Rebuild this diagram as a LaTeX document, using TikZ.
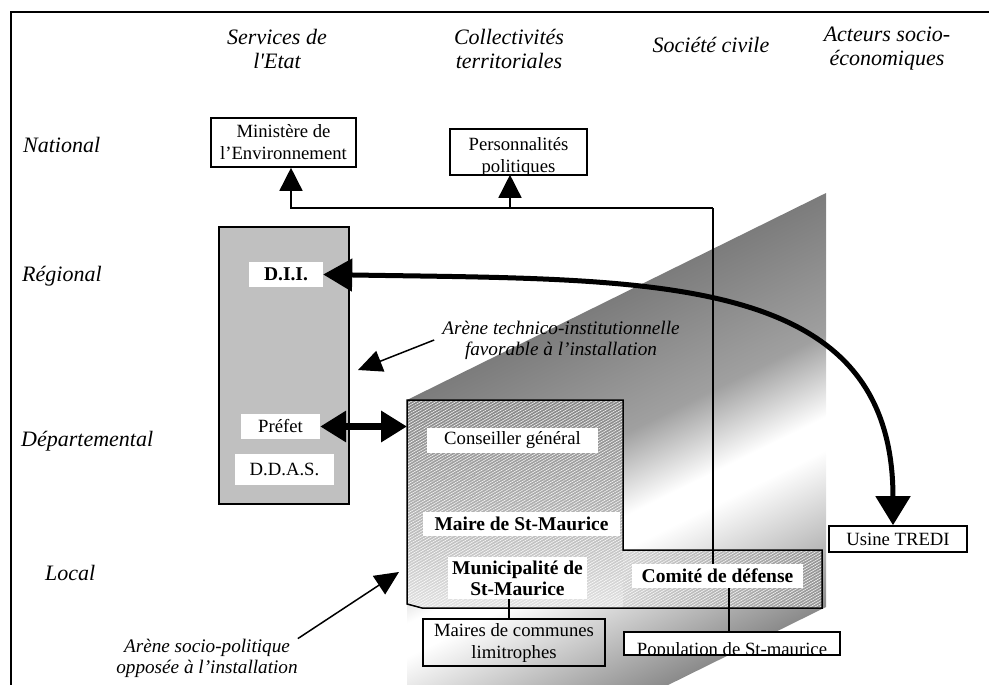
\documentclass[tikz,border=0pt]{standalone}
\usepackage{fontspec}
\setmainfont{Liberation Serif}
\usepackage{tikz}
\usetikzlibrary{arrows.meta,patterns.meta}

\definecolor{colGray}{HTML}{C0C0C0}
\definecolor{arenaDark}{HTML}{7C7C7C}
\definecolor{arenaMid}{HTML}{A0A0A0}
\definecolor{arenaPale}{HTML}{C8C8C8}
\definecolor{arenaLow}{HTML}{8A8A8A}
\definecolor{oppDark}{HTML}{868686}
\definecolor{oppMid}{HTML}{B0B0B0}
\definecolor{oppLight}{HTML}{E2E2E2}
\definecolor{armLight}{HTML}{D2D2D2}
\definecolor{armDark}{HTML}{959595}

% fond de l'arene socio-politique (de bas en haut, 25bp..75bp = le chemin)
\pgfdeclareverticalshading{arenashade}{100bp}{color(0bp)=(arenaLow); color(25bp)=(arenaLow); color(35bp)=(arenaPale); color(44bp)=(white); color(48bp)=(white); color(58bp)=(arenaMid); color(75bp)=(arenaDark); color(100bp)=(arenaDark)}

\newcommand{\corps}{\fontsize{18.7}{22}\selectfont}
\newcommand{\gras}{\fontsize{19.5}{21}\selectfont\bfseries}

\begin{document}
\begin{tikzpicture}[x=1pt,y=-1pt,
    colonne/.style={inner sep=0pt, align=center, font=\fontsize{22}{24}\selectfont\itshape},
    niveau/.style={anchor=west, inner sep=0pt, font=\fontsize{22}{24}\selectfont\itshape},
    acteur/.style={draw, line width=1.6pt, fill=white, inner sep=0pt, align=center, font=\corps},
    etiquette/.style={fill=white, inner sep=0pt, align=center, font=\corps},
    texte/.style={inner sep=0pt, align=center, font=\corps},
    annotation/.style={inner sep=0pt, align=center, font=\fontsize{19.2}{21}\selectfont\itshape},
    trait/.style={line width=1.5pt},
    fleche/.style={-{Triangle[length=23pt,width=23pt]}, line width=1.5pt},
    renvoi/.style={-{Triangle[length=24pt,width=22pt]}, line width=1.5pt},
    grosse/.style={{Triangle[length=29pt,width=32pt]}-{Triangle[length=29pt,width=34pt]}, line width=5pt},
    aller-retour/.style={{Triangle[length=26pt,width=30pt]}-{Triangle[length=26pt,width=30pt]}, line width=7pt}]
  \useasboundingbox (0,0) rectangle (989,685);
  \clip (0,0) rectangle (989,685);

  % cadre
  \draw[line width=1.5pt] (11,685) -- (11,12) -- (989,12);

  % colonnes
  \node[colonne] (etat) at (277,49) {Services de\\l\textquotesingle Etat};
  \node[colonne] (collect) at (509,49) {Collectivités\\territoriales};
  \node[colonne] (civile) at (711,45) {Société civile};
  \node[colonne] (socioeco) at (887,49) {Acteurs socio-\\économiques};

  % niveaux
  \node[niveau] (national) at (23,145) {National};
  \node[niveau] (regional) at (22,276) {Régional};
  \node[niveau] (departemental) at (21,441) {Départemental};
  \node[niveau] (local) at (45,573) {Local};

  % arene socio-politique : parallelogramme incline
  \begin{scope}[transform canvas={cm={1,0.494,0,1,(0pt,-201.06pt)}}]
    \shade[shading=arenashade] (407,400) rectangle (826,814);
  \end{scope}

  % arene opposee
  \begin{scope}
    \clip (407,400) -- (623,400) -- (623,550) -- (822,550) -- (822,608) -- (422,608) -- (407,604) -- cycle;
    \shade[top color=oppDark, bottom color=oppLight, middle color=oppMid] (407,400) rectangle (623,608);
    \shade[left color=armLight, right color=armDark] (623,550) rectangle (822,608);
    \fill[pattern={Lines[angle=30,distance=2.5pt,line width=0.5pt]}, pattern color=white, fill opacity=0.5]
      (407,400) rectangle (822,608);
  \end{scope}
  \draw[line width=1.5pt]
    (407,400) -- (623,400) -- (623,550) -- (822,550) -- (822,608) -- (422,608) -- (407,604) -- cycle;
  \coordinate (opp) at (407,400);

  % services de l'Etat
  \node[draw, line width=1.6pt, fill=colGray, minimum width=130, minimum height=277] (etatbox) at (284,365.5) {};
  \node[etiquette, font=\gras, minimum width=74, minimum height=25] (dii) at (286,274.5) {D.I.I.};
  \node[etiquette, minimum width=79, minimum height=25] (prefet) at (280.5,426.5) {Préfet};
  \node[etiquette, minimum width=99, minimum height=31] (ddas) at (284.5,469.5) {D.D.A.S.};

  % national
  \node[acteur, minimum width=145, minimum height=49] (ministere) at (283.5,142.5) {Ministère de\\l’Environnement};
  \node[acteur, draw=none, minimum width=135, minimum height=44] (perso) at (518.5,152) {};
  \begin{scope}
    \clip (perso.south west) rectangle (perso.north east);
    \node[texte] (persotxt) at (518.5,157) {Personnalités\\politiques};
  \end{scope}
  \draw[line width=1.6pt] (perso.south west) rectangle (perso.north east);

  % acteurs de l'arene opposee
  \node[etiquette, minimum width=171, minimum height=25] (conseiller) at (512.5,440.5) {Conseiller général};
  \node[etiquette, font=\gras, minimum width=197, minimum height=24] (maire) at (521.5,524) {Maire de St-Maurice};
  \node[etiquette, font=\gras, minimum width=139, minimum height=42] (municipalite) at (517.5,578) {Municipalité de\\St-Maurice};
  \node[etiquette, font=\gras, minimum width=171, minimum height=24] (comite) at (717.5,576) {Comité de défense};

  % local
  \node[acteur, fill=none, minimum width=182, minimum height=47] (maires) at (514,642.5) {Maires de communes\\limitrophes};
  \node[acteur, draw=none, minimum width=214, minimum height=21] (population) at (732,643.5) {};
  \begin{scope}
    \clip (population.south west) rectangle (population.north east);
    \node[texte, anchor=base] (poptxt) at (732,655) {Population de St-maurice};
  \end{scope}
  \draw[line width=1.6pt] (population.south west) rectangle (population.north east);
  \node[acteur, minimum width=138, minimum height=26] (usine) at (898,539) {Usine TREDI};

  % liens
  \coordinate (carrefour) at (713,208);
  \draw[trait] (comite.north -| carrefour) -- (carrefour);
  \draw[fleche] (carrefour) -| ([xshift=7.5pt]ministere.south);
  \draw[fleche] ([xshift=-8.5pt]perso.south |- carrefour) -- ([xshift=-8.5pt]perso.south);
  \draw[trait] ([xshift=-5pt]maires.north |- municipalite.south) -- ([xshift=-5pt]maires.north);
  \draw[trait] ([xshift=-3pt]population.north |- comite.south) -- ([xshift=-3pt]population.north);
  \draw[grosse] (dii.east) .. controls (650,280) and (893,270) .. ([xshift=-5pt]usine.north);
  \draw[aller-retour] (prefet.east) -- (prefet.east -| opp);

  % annotations
  \node[annotation] (technique) at (561,340) {Arène technico-institutionnelle\\favorable à l’installation};
  \coordinate (technique-cible) at (358,370);
  \draw[renvoi] ([xshift=-8pt]technique.west) -- (technique-cible);
  \node[annotation] (sociopol) at (207,658) {Arène socio-politique\\opposée à l’installation};
  \coordinate (socio-cible) at (399,572);
  \draw[renvoi] (sociopol.north east) -- (socio-cible);
\end{tikzpicture}
\end{document}
